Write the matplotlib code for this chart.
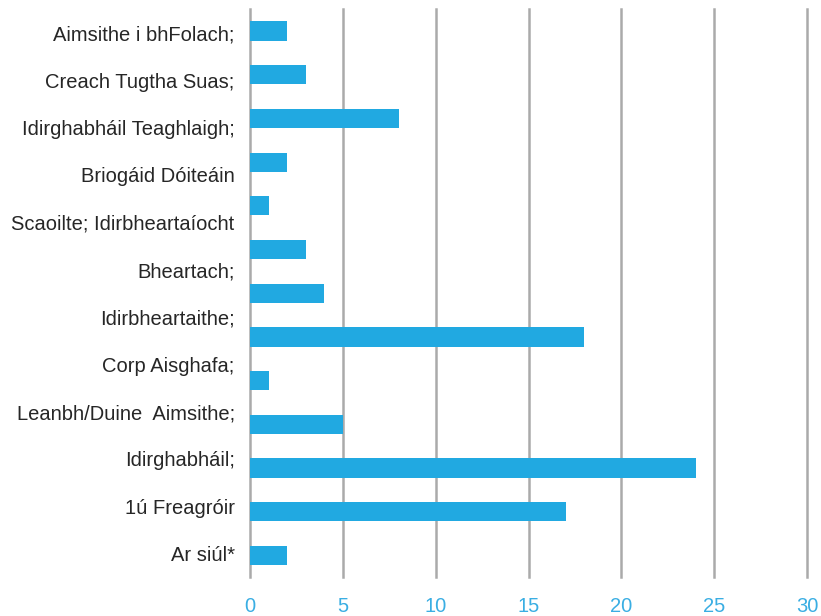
import matplotlib.pyplot as plt
import numpy as np

plt.rcParams['font.family'] = ['Liberation Sans', 'DejaVu Sans']

# bar values, top to bottom (13 bars)
values = [2, 3, 8, 2, 1, 3, 4, 18, 1, 5, 24, 17, 2]

# category labels, top to bottom (12 labels, spread evenly over the same height)
labels = ['Aimsithe i bhFolach;', 'Creach Tugtha Suas;', 'Idirghabháil Teaghlaigh;',
          'Briogáid Dóiteáin', 'Scaoilte; Idirbheartaíocht', 'Bheartach;',
          'Idirbheartaithe;', 'Corp Aisghafa;', 'Leanbh/Duine  Aimsithe;',
          'Idirghabháil;', '1ú Freagróir', 'Ar siúl*']

x_ticks = [0, 5, 10, 15, 20, 25, 30]

bar_color = '#21a9e1'
grid_color = '#aaaaaa'

fig = plt.figure(figsize=(8.21, 6.16), dpi=100)
ax = fig.add_axes([0.3045, 0.063, 0.6785, 0.922])

n_bars = len(values)
ax.barh(np.arange(n_bars), values, height=0.44, color=bar_color, zorder=3)

ax.set_xlim(0, 30)
ax.set_ylim(n_bars - 0.5, -0.5)

# labels sit on their own evenly spaced slots across the full axis height
n_lab = len(labels)
lab_pos = (np.arange(n_lab) + 0.5) * n_bars / n_lab - 0.5
ax.set_yticks(lab_pos)
ax.set_yticklabels(labels, fontsize=14.5, color='#262626')

ax.set_xticks(x_ticks)
ax.set_xticklabels([str(t) for t in x_ticks], fontsize=14.5, color='#3aaee3')
ax.tick_params(axis='both', length=0)
ax.tick_params(axis='y', pad=11)
ax.tick_params(axis='x', pad=14)

ax.grid(axis='x', color=grid_color, linewidth=1.8, zorder=0)
ax.grid(axis='y', visible=False)
for gl in ax.get_xgridlines():
    gl.set_clip_on(False)
for s in ax.spines.values():
    s.set_visible(False)

fig.savefig('out.png', dpi=100)
